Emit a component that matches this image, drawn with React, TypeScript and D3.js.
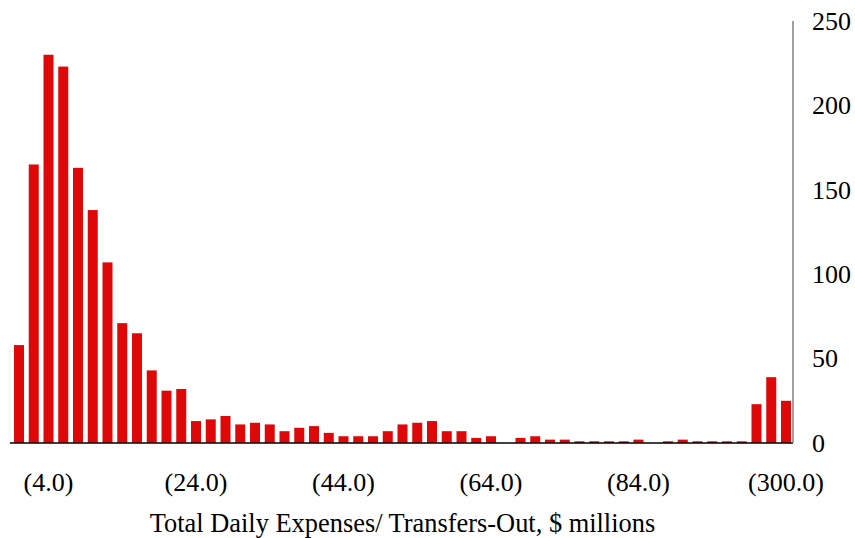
import React from "react";
import * as d3 from "d3";

// Histogram bins (in $ millions, shown in parentheses as outflows)
const binLabels: string[] = [
  "(0.0)", "(2.0)", "(4.0)", "(6.0)", "(8.0)", "(10.0)", "(12.0)", "(14.0)", "(16.0)", "(18.0)",
  "(20.0)", "(22.0)", "(24.0)", "(26.0)", "(28.0)", "(30.0)", "(32.0)", "(34.0)", "(36.0)", "(38.0)",
  "(40.0)", "(42.0)", "(44.0)", "(46.0)", "(48.0)", "(50.0)", "(52.0)", "(54.0)", "(56.0)", "(58.0)",
  "(60.0)", "(62.0)", "(64.0)", "(66.0)", "(68.0)", "(70.0)", "(72.0)", "(74.0)", "(76.0)", "(78.0)",
  "(80.0)", "(82.0)", "(84.0)", "(86.0)", "(88.0)", "(90.0)", "(92.0)", "(94.0)", "(96.0)", "(98.0)",
  "(100.0)", "(102.0)", "(300.0)",
];

// Number of days falling in each bin
const dayCounts: number[] = [
  58, 165, 230, 223, 163, 138, 107, 71, 65, 43,
  31, 32, 13, 14, 16, 11, 12, 11, 7, 9,
  10, 6, 4, 4, 4, 7, 11, 12, 13, 7,
  7, 3, 4, 0, 3, 4, 2, 2, 1, 1,
  1, 1, 2, 0, 1, 2, 1, 1, 1, 1,
  23, 39, 25,
];

// Bins that get a label under the axis
const labeledBins: string[] = ["(4.0)", "(24.0)", "(44.0)", "(64.0)", "(84.0)", "(300.0)"];

const yTicks: number[] = [0, 50, 100, 150, 200, 250];

const xAxisTitle = "Total Daily Expenses/ Transfers-Out, $ millions";

const W = 855;
const H = 538;
const FONT = "'Liberation Serif', 'Times New Roman', serif";
const BAR_COLOR = "#de0808";

export default function App() {
  const x = d3
    .scaleBand<string>()
    .domain(binLabels)
    .range([14, 791])
    .paddingInner(0.322)
    .paddingOuter(0);

  const y = d3.scaleLinear().domain([0, 250]).range([443, 21]);

  const axisX = 793;
  const baseY = y(0);

  return (
    <svg
      width={W}
      height={H}
      style={{ position: "absolute", left: 0, top: 0, background: "#fff" }}
      fontFamily={FONT}
    >
      {/* bars */}
      {binLabels.map((b, i) => {
        const v = dayCounts[i];
        if (v <= 0) return null;
        return (
          <rect
            key={b}
            x={x(b)}
            y={y(v)}
            width={x.bandwidth()}
            height={baseY - y(v)}
            fill={BAR_COLOR}
          />
        );
      })}

      {/* baseline */}
      <line x1={10} x2={axisX} y1={baseY} y2={baseY} stroke="#000" strokeWidth={1.5} />

      {/* right value axis */}
      <line x1={axisX} x2={axisX} y1={y(250)} y2={baseY} stroke="#808080" strokeWidth={1.5} />
      {yTicks.map((t) => (
        <text key={t} x={812} y={y(t)} dy="0.34em" fontSize={26} fill="#000">
          {t}
        </text>
      ))}

      {/* category labels */}
      {labeledBins.map((b) => (
        <text
          key={b}
          x={(x(b) as number) + x.bandwidth() / 2}
          y={491}
          textAnchor="middle"
          fontSize={26}
          fill="#000"
        >
          {b}
        </text>
      ))}

      {/* axis title */}
      <text x={402.5} y={532} textAnchor="middle" fontSize={26.4} fill="#000">
        {xAxisTitle}
      </text>
    </svg>
  );
}
